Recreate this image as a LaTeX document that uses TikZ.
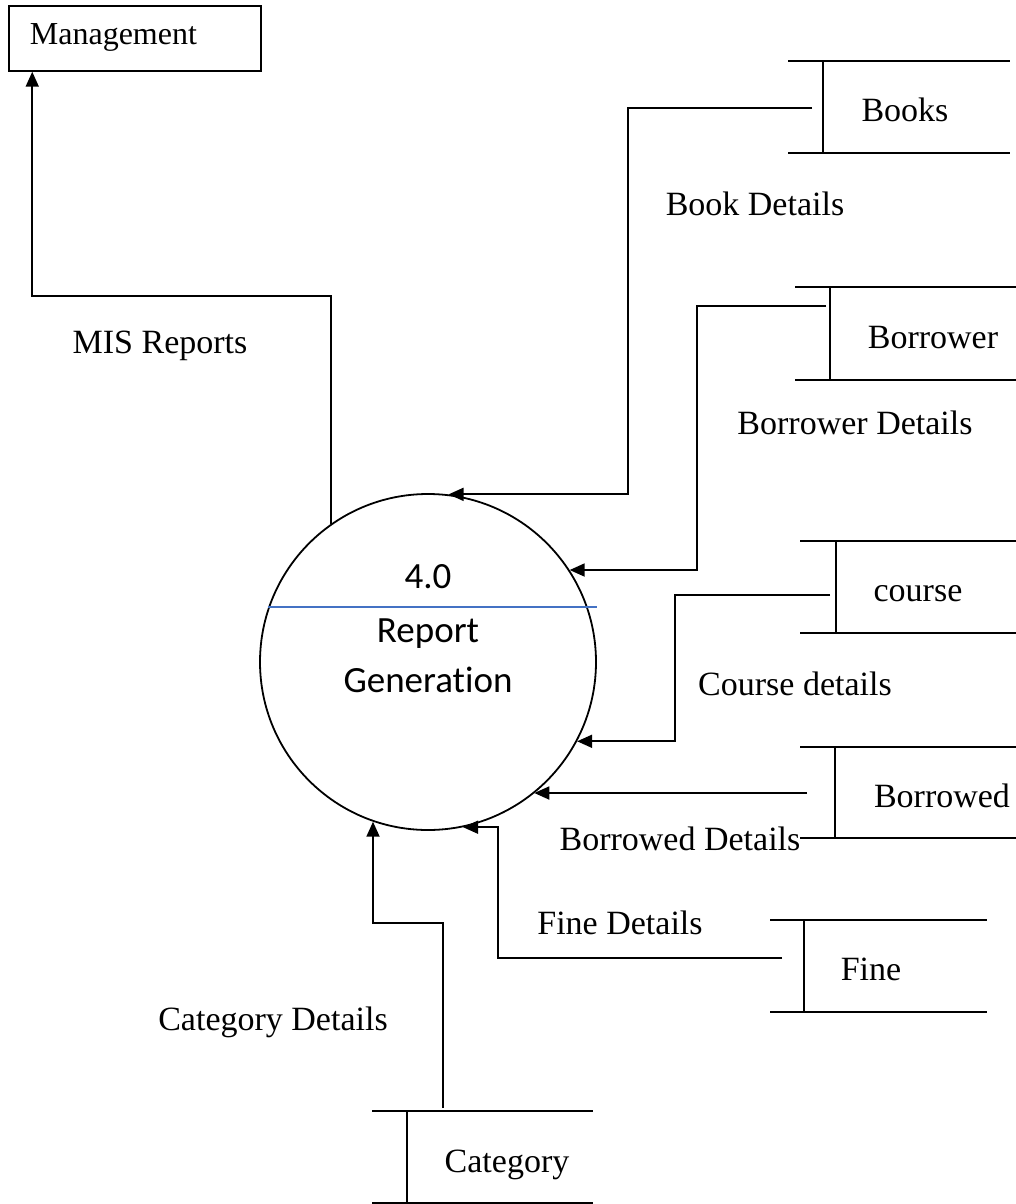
\documentclass[tikz,border=0pt]{standalone}
\usepackage{fontspec}
\setmainfont{Liberation Serif}
\newfontfamily\procfont[Ligatures=NoCommon]{Carlito}
\usetikzlibrary{arrows.meta}
\definecolor{dividerblue}{RGB}{68,114,196}

% open-ended data store: left x, divider x, right x, top y, bottom y
\newcommand\storeshape[5]{%
  \draw (#1,#4) -- (#3,#4) (#1,#5) -- (#3,#5) (#2,#4) -- (#2,#5);}

\begin{document}
\begin{tikzpicture}[x=1pt,y=-1pt,
  line width=1.8pt,
  flow/.style={draw,-{Triangle[length=15pt,width=13pt]}},
  lbl/.style={inner sep=0pt,anchor=base,font=\fontsize{34}{40}\selectfont},
  proclbl/.style={inner sep=0pt,anchor=base,font=\procfont\fontsize{37}{44}\selectfont},
]
\useasboundingbox (0,0) rectangle (1016,1204);

% external entity
\node[draw,minimum width=252pt,minimum height=65pt,inner sep=0pt,line width=1.5pt] (mgmt) at (135,38.5) {};
\node[lbl,anchor=base west,font=\fontsize{32}{38}\selectfont] (mgmtlabel) at (29,45) {Management};

% process
\node[circle,draw,minimum size=336pt,inner sep=0pt] (proc) at (428,662) {};
\draw[dividerblue,line width=1.5pt] (268,607) -- (597,607);
\node[proclbl] (pid) at (428,588) {4.0};
\node[proclbl] (pname1) at (428,642) {Report};
\node[proclbl] (pname2) at (428,692) {Generation};

% data stores
\storeshape{788}{823}{1010}{61}{153}
\node[lbl] (books) at (905,122) {Books};
\coordinate (books-port) at (812,108);

\storeshape{795}{830}{1016}{287}{380}
\node[lbl] (borrower) at (933,348) {Borrower};
\coordinate (borrower-port) at (826,306);

\storeshape{800}{836}{1016}{541}{633}
\node[lbl] (course) at (918,601) {course};
\coordinate (course-port) at (830,595);

\storeshape{800}{835}{1016}{747}{838}
\node[lbl] (borrowed) at (942,807) {Borrowed};
\coordinate (borrowed-port) at (807,793);

\storeshape{770}{804}{987}{920}{1012}
\node[lbl] (fine) at (871,980) {Fine};
\coordinate (fine-port) at (782,958);

\storeshape{372}{407}{593}{1111}{1203}
\node[lbl] (category) at (507,1172) {Category};
\coordinate (category-port) at (443,1108);

% data flows
\draw[flow] (proc.125.6) -- ++(0,-228) -| ([xshift=24pt]mgmt.south west);
\draw[flow] (books-port) -- ++(-184,0) |- (proc.83.5);
\draw[flow] (borrower-port) -- ++(-129,0) |- (proc.33.6);
\draw[flow] (course-port) -- ++(-155,0) |- (proc.-28.4);
\draw[flow] (borrowed-port) -- (borrowed-port -| proc.-51);
\draw[flow] (fine-port) -- ++(-284,0) |- (proc.-78);
\draw[flow] (category-port) -- ++(0,-185) -| (proc.-109);

% flow labels
\node[lbl] (l-mis) at (160,353) {MIS Reports};
\node[lbl] (l-books) at (755,215) {Book Details};
\node[lbl] (l-borrower) at (855,434) {Borrower Details};
\node[lbl] (l-course) at (795,695) {Course details};
\node[lbl] (l-borrowed) at (680,850) {Borrowed Details};
\node[lbl] (l-fine) at (620,934) {Fine Details};
\node[lbl] (l-category) at (273,1030) {Category Details};
\end{tikzpicture}
\end{document}
